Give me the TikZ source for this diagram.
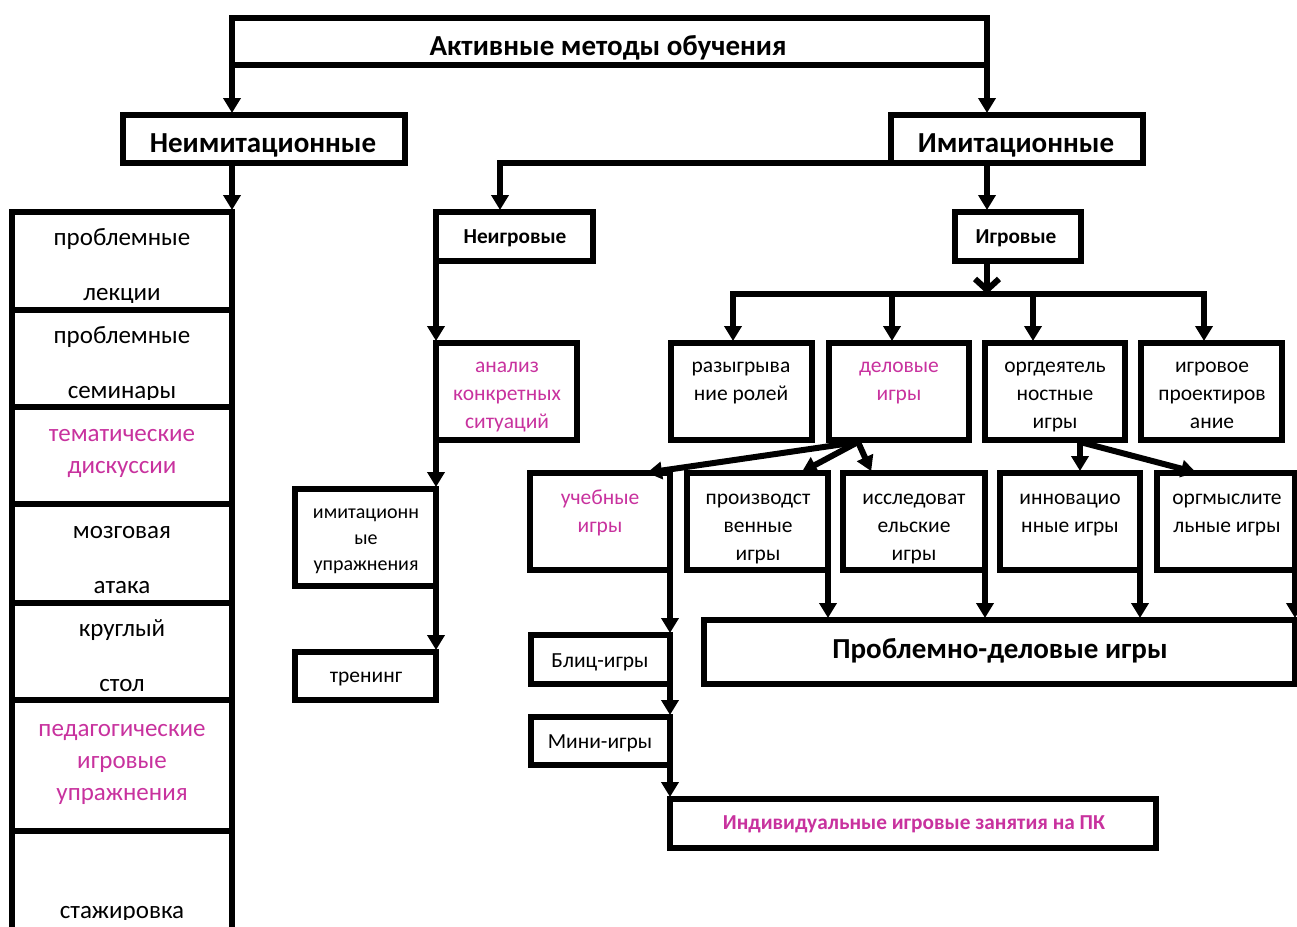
\documentclass[tikz,border=0pt]{standalone}
\usepackage{fontspec}
\setmainfont{Carlito}
\usetikzlibrary{arrows.meta}
\definecolor{mag}{HTML}{C8329E}
\newcommand\fsz[2]{\fontsize{#1pt}{#2pt}\selectfont}
\newcommand\bx[5]{%
  \pgfmathsetmacro\bxw{#4-#2}\pgfmathsetmacro\bxh{#5-#3}%
  \pgfmathsetmacro\bxcx{(#2+#4)/2}\pgfmathsetmacro\bxcy{(#3+#5)/2}%
  \node[box, minimum width=\bxw pt, minimum height=\bxh pt] (#1) at (\bxcx,\bxcy) {};}
\tikzset{
  box/.style={draw, line width=6pt, inner sep=0pt, outer sep=0pt},
  tx/.style={inner sep=0pt, outer sep=0pt, anchor=base, align=center, font=\fsz{21.5}{28}},
  imtx/.style={tx, font=\fsz{20}{26}},
  big/.style={tx, font=\bfseries\fsz{29}{34}},
  mid/.style={tx, font=\bfseries\fsz{21.3}{26}},
  col/.style={tx, font=\fsz{25}{32}},
  colw/.style={tx, font=\fsz{25}{55}},
  arr/.style={line width=6pt, shorten >=2pt, -{Triangle[length=15pt,width=17pt]}},
  barb/.style={line width=6pt, -{Straight Barb[length=11pt,width=24pt]}},
  pink/.style={text=mag},
}
\begin{document}
\begin{tikzpicture}[x=1pt,y=-1pt]
\clip (0,0) rectangle (1297,926);
% ---------- boxes ----------
\bx{top}{232}{18}{987}{65}
\bx{neim}{123}{115}{405}{163}
\bx{imit}{891}{115}{1143}{163}
\bx{neig}{436}{212}{593}{261}
\bx{igr}{955}{212}{1081}{261}
\bx{razyg}{671}{343}{812}{440}
\bx{delov}{829}{343}{969}{440}
\bx{orgd}{985}{343}{1125}{440}
\bx{proj}{1141}{343}{1282}{440}
\bx{anal}{436}{343}{577}{440}
\bx{imupr}{295}{489}{436}{586}
\bx{tren}{295}{652}{436}{700}
\bx{ucheb}{530}{473}{670}{570}
\bx{proizv}{687}{473}{828}{570}
\bx{issl}{843}{473}{985}{570}
\bx{innov}{1000}{473}{1140}{570}
\bx{orgm}{1157}{473}{1295}{570}
\bx{probl}{704}{620}{1295}{684}
\bx{blic}{531}{635}{670}{684}
\bx{mini}{531}{717}{670}{765}
\bx{ind}{670}{799}{1156}{848}
% left column cells
\bx{c1}{12}{212}{232}{310}
\bx{c2}{12}{310}{232}{407}
\bx{c3}{12}{407}{232}{504}
\bx{c4}{12}{504}{232}{603}
\bx{c5}{12}{603}{232}{700}
\bx{c6}{12}{700}{232}{831}
\bx{c7}{12}{831}{232}{945}
% ---------- texts (anchored at the baseline of the last line) ----------
\node[big] (ttop) at (608,55) {Активные методы обучения};
\node[big] (tneim) at (263,152) {Неимитационные};
\node[big] (timit) at (1016,152) {Имитационные};
\node[mid] (tneig) at (515,243) {Неигровые};
\node[mid] (tigr) at (1016,243) {Игровые};
\node[tx] (trazyg) at (741,400) {разыгрыва\\ние ролей};
\node[tx,pink] (tdelov) at (899,400) {деловые\\игры};
\node[tx] (torgd) at (1055,428) {оргдеятель\\ностные\\игры};
\node[tx] (tproj) at (1212,428) {игровое\\проектиров\\ание};
\node[tx,pink] (tanal) at (507,428) {анализ\\конкретных\\ситуаций};
\node[imtx] (timupr) at (366,570) {имитационн\\ые\\упражнения};
\node[tx] (ttren) at (366,682) {тренинг};
\node[tx,pink] (tucheb) at (600,532) {учебные\\игры};
\node[tx] (tproizv) at (758,560) {производст\\венные\\игры};
\node[tx] (tissl) at (914,560) {исследоват\\ельские\\игры};
\node[tx] (tinnov) at (1070,532) {инновацио\\нные игры};
\node[tx] (torgm) at (1227,532) {оргмыслите\\льные игры};
\node[big] (tprobl) at (1000,658) {Проблемно-деловые игры};
\node[tx] (tblic) at (600,667) {Блиц-игры};
\node[tx] (tmini) at (600,748) {Мини-игры};
\node[mid,pink] (tind) at (914,829) {Индивидуальные игровые занятия на ПК};
% left column texts (clipped like the original cells)
\begin{scope}\clip (12,212) rectangle (232,302);
\node[colw] (l1) at (122,300) {проблемные\\лекции};\end{scope}
\begin{scope}\clip (12,310) rectangle (232,399);
\node[colw] (l2) at (122,398) {проблемные\\семинары};\end{scope}
\node[col,pink] (l3) at (122,473) {тематические\\дискуссии};
\begin{scope}\clip (12,504) rectangle (232,594);
\node[colw] (l4) at (122,593) {мозговая\\атака};\end{scope}
\begin{scope}\clip (12,603) rectangle (232,692);
\node[colw] (l5) at (122,691) {круглый\\стол};\end{scope}
\node[col,pink] (l6) at (122,800) {педагогические\\игровые\\упражнения};
\begin{scope}\clip (12,831) rectangle (232,919);
\node[col] (l7) at (122,918) {стажировка};\end{scope}
% ---------- connectors ----------
\draw[arr] (top.south west) -- (top.south west |- neim.north);
\draw[arr] (top.south east) -- (top.south east |- imit.north);
\draw[arr] (neim.south -| c1.north east) -- (c1.north east);
\coordinate (jn) at (500,163);
\draw[arr] (imit.south west) -- (jn) -- (jn |- neig.north);
\draw[arr] (imit.south -| top.south east) -- (igr.north -| top.south east);
\coordinate (bus) at (987,294);
\coordinate (bL) at (733,294);
\coordinate (b2) at (892,294);
\coordinate (b3) at (1033,294);
\coordinate (bR) at (1204,294);
\draw[barb] (igr.south -| bus) -- (bus);
\draw[arr] (bus) -| (razyg.north -| bL);
\draw[arr] (bus) -| (proj.north -| bR);
\draw[arr] (b2) -- (delov.north -| b2);
\draw[arr] (b3) -- (orgd.north -| b3);
\draw[arr] (neig.south west) -- (anal.north west);
\draw[arr] (anal.south west) -- (imupr.north east);
\draw[arr] (imupr.south east) -- (tren.north east);
\coordinate (d0) at (858,442);
\coordinate (du) at (645,473);
\coordinate (dp) at (800,473);
\coordinate (di) at (872,473);
\draw[arr] (d0) -- (du);
\draw[arr] (d0) -- (dp);
\draw[arr] (d0) -- (di);
\coordinate (o0) at (1080,442);
\coordinate (om) at (1198,473);
\draw[arr] (o0) -- (innov.north -| o0);
\draw[arr] (o0) -- (om);
\draw[arr] (ucheb.south east) -- (blic.north east);
\draw[arr] (blic.south east) -- (mini.north east);
\draw[arr] (mini.south east) -- (ind.north west);
\draw[arr] (proizv.south east) -- (probl.north -| proizv.south east);
\draw[arr] (issl.south east) -- (probl.north -| issl.south east);
\draw[arr] (innov.south east) -- (probl.north -| innov.south east);
\draw[arr] (orgm.south east) -- (probl.north -| orgm.south east);
\end{tikzpicture}
\end{document}
